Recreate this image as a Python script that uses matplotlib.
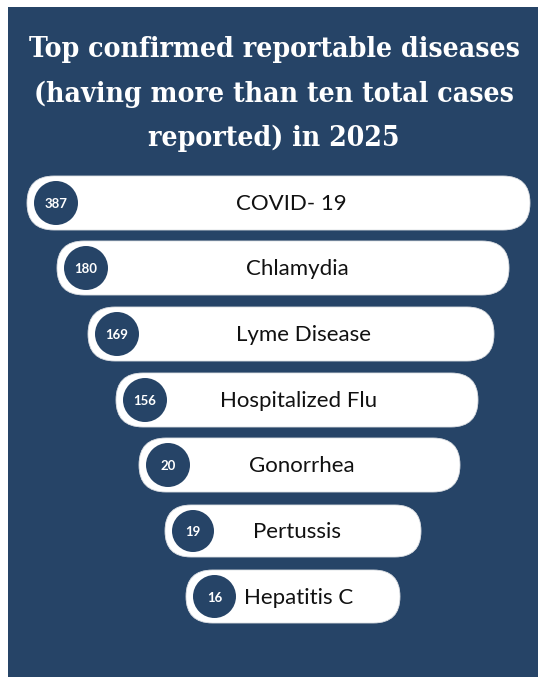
import matplotlib
matplotlib.use("Agg")
import matplotlib.pyplot as plt
from matplotlib.patches import Rectangle, FancyBboxPatch, Circle

# reportable diseases, 2025 confirmed totals
diseases = ["COVID- 19", "Chlamydia", "Lyme Disease", "Hospitalized Flu",
            "Gonorrhea", "Pertussis", "Hepatitis C"]
cases = [387, 180, 169, 156, 20, 19, 16]

title_lines = ["Top confirmed reportable diseases",
               "(having more than ten total cases",
               "reported) in 2025"]

# funnel layout (pixel units): left/right edge, top, height of each pill
pill_left = [27, 57, 88, 116, 139, 165, 186]
pill_right = [530, 509, 494, 478, 460, 421, 400]
pill_top = [176, 241, 307, 373, 438, 505, 570]
pill_h = [54, 54, 54, 54, 54, 52, 53]
label_x = [291, 297, 303, 299, 302, 297, 299]

navy = "#264467"

W, H = 538, 677
fig = plt.figure(figsize=(W / 100, H / 100), dpi=100)
ax = fig.add_axes([0, 0, 1, 1])
ax.set_xlim(0, W)
ax.set_ylim(H, 0)
ax.axis("off")

ax.add_patch(Rectangle((8, 7), W - 8, H - 7, facecolor=navy, edgecolor="none"))

for i, line in enumerate(title_lines):
    ax.text(274, 57 + i * 44.5, line, ha="center", va="baseline",
            color="white", fontsize=20.3, fontweight="bold",
            family="DejaVu Serif", fontstretch="condensed")

for i, (name, val) in enumerate(zip(diseases, cases)):
    x0, x1 = pill_left[i], pill_right[i]
    y0, h = pill_top[i], pill_h[i]
    ax.add_patch(FancyBboxPatch((x0, y0), x1 - x0, h,
                                boxstyle=f"round,pad=0,rounding_size={h / 2}",
                                facecolor="white", edgecolor="#dde0e4",
                                linewidth=0.6))
    r = h / 2 - 5
    cx, cy = x0 + 5 + r + 2, y0 + h / 2
    ax.add_patch(Circle((cx, cy), r, facecolor=navy, edgecolor="none"))
    ax.text(cx, cy + 1, str(val), ha="center", va="center", color="white",
            fontsize=9.5, fontweight="bold", family="Lato")
    ax.text(label_x[i], cy + 1, name, ha="center", va="center",
            color="#111111", fontsize=16, family="Lato")

fig.savefig("out.png", dpi=100)
